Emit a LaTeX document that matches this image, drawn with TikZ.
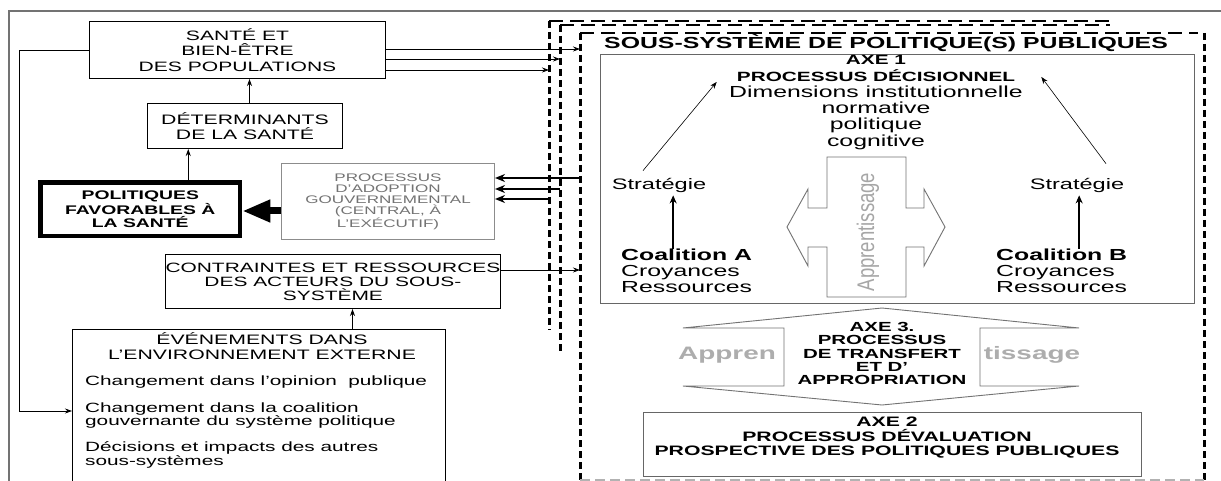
\documentclass[tikz,border=0pt]{standalone}
\usepackage{fontspec}
\usepackage{graphicx}
\setmainfont{Liberation Sans}
\usetikzlibrary{arrows.meta}
\newcommand\fs[2]{\fontsize{#1}{#2}\selectfont}
\newcommand\sx[1]{\scalebox{1.55}[1]{#1}}
\begin{document}
\begin{tikzpicture}[x=1pt,y=-1pt,
  box/.style={draw, line width=1pt, inner sep=0pt, align=center, anchor=north west},
  txt/.style={inner sep=0pt, align=center},
  arr/.style={-{Stealth[length=7pt,width=5pt]}, line width=0.8pt},
  thickarr/.style={-{Stealth[length=10pt,width=8pt]}, line width=2.5pt},
  vdash/.style={line width=3pt, dash pattern=on 7pt off 4pt},
  hdash/.style={line width=1.6pt, dash pattern=on 14pt off 7pt},
  grayline/.style={draw=black!55, line width=0.9pt},
]
\clip (0,0) rectangle (1221,481);
\fill[white] (0,0) rectangle (1221,481);
% outer frame
\draw[black!55, line width=1.2pt] (1221,11) -- (9,11) -- (9,481);

% left column
\node[box, minimum width=296pt, minimum height=57pt, font=\fs{13.6}{15.5}] (sante) at (89,21) {\sx{SANTÉ ET}\\\sx{BIEN-ÊTRE}\\\sx{DES POPULATIONS}};
\node[box, minimum width=195pt, minimum height=45pt, font=\fs{13.7}{15}] (det) at (147,103) {\sx{DÉTERMINANTS}\\\sx{DE LA SANTÉ}};
\node[box, line width=4.5pt, minimum width=199.5pt, minimum height=53.5pt, font=\bfseries\fs{12.5}{13.5}] (pol) at (38.25,180.25) {\sx{POLITIQUES}\\\sx{FAVORABLES À}\\\sx{LA SANTÉ}};
\node[box, draw=black!45, minimum width=213pt, minimum height=76pt, text=black!55, font=\fs{11}{11}] (proc) at (281,163) {\sx{PROCESSUS}\\\sx{D'ADOPTION}\\\sx{GOUVERNEMENTAL}\\\sx{(CENTRAL, À}\\\sx{L'EXÉCUTIF)}};
\node[box, minimum width=331pt, minimum height=54pt, font=\fs{13.5}{14}] (contr) at (165,254) {\sx{CONTRAINTES ET RESSOURCES}\\\sx{DES ACTEURS DU SOUS-}\\\sx{SYSTÈME}};
\node[box, minimum width=373pt, minimum height=170pt] (evt) at (72,329) {};
\node[txt, font=\fs{13.7}{15}] (evttitle) at (262,346.5) {\sx{ÉVÉNEMENTS DANS}\\\sx{L'ENVIRONNEMENT EXTERNE}};
\node[txt, align=left, anchor=west, font=\fs{13.4}{13.5}] (it1) at (85,382.5) {\sx{Changement dans l'opinion\ \ publique}};
\node[txt, align=left, anchor=west, font=\fs{13.4}{13.5}] (it2) at (85,415.5) {\sx{Changement dans la coalition}\\\sx{gouvernante du système politique}};
\node[txt, align=left, anchor=west, font=\fs{13.4}{13.5}] (it3) at (85,455) {\sx{Décisions et impacts des autres}\\\sx{sous-systèmes}};

% left connectors
\coordinate (fb) at (19,411);
\draw[arr] (sante.west) -| (fb) -- (fb -| evt.west);
\draw[arr] ([xshift=4.5pt]det.north) -- ([xshift=4.5pt]det.north |- sante.south);
\draw[arr] ([xshift=48pt]pol.north) -- ([xshift=48pt]pol.north |- det.south);
\draw[arr] ([xshift=93.5pt]evt.north) -- ([xshift=93.5pt]evt.north |- contr.south);
\coordinate (ba) at (0,211);
\draw[line width=7pt, -{Triangle[length=28pt,width=21pt]}] (proc.west |- ba) -- (pol.east |- ba);

% dashed frames
\draw[hdash] (549,21) -- (1110,21);
\draw[hdash] (560,25) -- (1110,25);
\draw[hdash] (580,33) -- (1198,33);
\draw[vdash] (549,21) -- (549,330);
\draw[vdash] (560,25) -- (560,352);
\draw[vdash] (580,33) -- (580,481);
\draw[vdash] (1204,33) -- (1204,481);
\draw[black!30, line width=2pt, dash pattern=on 10pt off 5pt] (580,479.5) -- (1204,479.5);

% connectors to frames
\coordinate (o1) at (580,49);
\coordinate (o2) at (560,59);
\coordinate (o3) at (549,70);
\coordinate (o4) at (580,270);
\draw[arr] (sante.east |- o1) -- (o1);
\draw[arr] (sante.east |- o2) -- (o2);
\draw[arr] (sante.east |- o3) -- (o3);
\draw[arr] (contr.east |- o4) -- (o4);
\coordinate (p1) at (580,178);
\coordinate (p2) at (560,189);
\coordinate (p3) at (549,199);
\draw[thickarr] (p1) -- (p1 -| proc.east);
\draw[thickarr] (p2) -- (p2 -| proc.east);
\draw[thickarr] (p3) -- (p3 -| proc.east);

% right panel
\node[txt, font=\bfseries\fs{16}{16}] (sstitle) at (886,43) {\sx{SOUS-SYSTÈME DE POLITIQUE(S) PUBLIQUES}};
\node[box, draw=black!60, minimum width=594pt, minimum height=249pt] (axe1) at (600,54) {};
\node[txt, font=\bfseries\fs{13.4}{17}] (axe1t) at (876,68.5) {\sx{AXE 1}\\\sx{PROCESSUS DÉCISIONNEL}};
\node[txt, font=\fs{16}{16.3}] (dims) at (876,117.5) {\sx{Dimensions institutionnelle}\\\sx{normative}\\\sx{politique}\\\sx{cognitive}};

\draw[grayline, fill=white] (827,157) -- (906,157) -- (906,208) -- (924,208) -- (924,189) -- (945,227) -- (924,266) -- (924,247) -- (906,247) -- (906,297) -- (827,297) -- (827,247) -- (808,247) -- (808,266) -- (787,227) -- (808,189) -- (808,208) -- (827,208) -- cycle;
\node[txt, rotate=90, text=black!35, font=\fs{18.5}{18.5}] (appr) at (868,232) {\scalebox{1}[1.3]{Apprentissage}};

\node[txt, font=\fs{15.2}{16}] (stratA) at (659,185) {\sx{Stratégie}};
\node[txt, font=\fs{15.2}{16}] (stratB) at (1077,185) {\sx{Stratégie}};
\node[txt, align=left, anchor=west, font=\fs{16}{16}] (coalA) at (621,271) {\sx{\bfseries Coalition A}\\\sx{Croyances}\\\sx{Ressources}};
\node[txt, align=left, anchor=west, font=\fs{16}{16}] (coalB) at (996,271) {\sx{\bfseries Coalition B}\\\sx{Croyances}\\\sx{Ressources}};

\draw[arr, line width=0.6pt] ([xshift=-16pt,yshift=7pt]stratA.north) -- ([xshift=-20pt]axe1t.south west);
\draw[arr, line width=0.6pt] ([xshift=29pt,yshift=14pt]stratB.north) -- ([xshift=26pt,yshift=5pt]axe1t.south east);
\draw[-{Stealth[length=8pt,width=7pt]}, line width=2.5pt] ([xshift=-13.5pt]coalA.north) -- ([xshift=-13.5pt,yshift=-3pt]coalA.north |- stratA.south);
\draw[-{Stealth[length=8pt,width=7pt]}, line width=2.5pt] ([xshift=17.5pt]coalB.north) -- ([xshift=17.5pt,yshift=-3pt]coalB.north |- stratB.south);

% axe 3
\draw[grayline] (683,328) -- (784,328) -- (784,386) -- (683,386) -- (882,405) -- (1079,386) -- (980,386) -- (980,328) -- (1079,328) -- (882,308) -- cycle;
\node[txt, font=\bfseries\fs{18}{18}, text=black!32] (app1) at (727,355) {\sx{Appren}};
\node[txt, font=\bfseries\fs{18}{18}, text=black!32] (app2) at (1032,355) {\sx{tissage}};
\node[txt, font=\bfseries\fs{13.2}{13.3}] (axe3) at (882,353.5) {\sx{AXE 3.}\\\sx{PROCESSUS}\\\sx{DE TRANSFERT}\\\sx{ET D'}\\\sx{APPROPRIATION}};

% axe 2
\node[box, draw=black!60, minimum width=498pt, minimum height=64pt] (axe2) at (643,412) {};
\node[txt, font=\bfseries\fs{13.7}{14.5}] (axe2t) at (887,438) {\sx{AXE 2}\\\sx{PROCESSUS DÉVALUATION}\\\sx{PROSPECTIVE DES POLITIQUES PUBLIQUES}};
\end{tikzpicture}
\end{document}
